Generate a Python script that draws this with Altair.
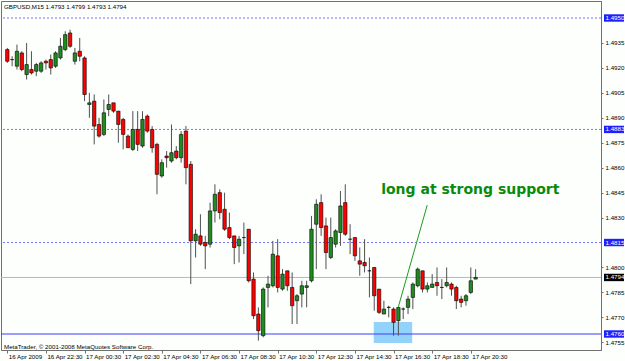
import altair as alt
import pandas as pd

# ---- OHLC data (GBPUSD M15, 16 Apr 2009 20:30 -> 17 Apr 2009 20:45)
opens = [1.4931, 1.4925, 1.4921, 1.4929, 1.4916, 1.4919, 1.4918, 1.4918, 1.4924, 1.4925,
         1.4921, 1.4926, 1.4931, 1.4941, 1.4924, 1.4930, 1.4926, 1.4898, 1.4900, 1.4886,
         1.4880, 1.4895, 1.4899, 1.4894, 1.4889, 1.4879, 1.4871, 1.4883, 1.4873, 1.4891,
         1.4883, 1.4874, 1.4855, 1.4867, 1.4864, 1.4870, 1.4866, 1.4882, 1.4862, 1.4816,
         1.4819, 1.4815, 1.4814, 1.4834, 1.4845, 1.4835, 1.4824, 1.4819, 1.4813, 1.4818,
         1.4823, 1.4793, 1.4772, 1.4759, 1.4788, 1.4789, 1.4807, 1.4787, 1.4798, 1.4788,
         1.4780, 1.4784, 1.4788, 1.4792, 1.4826, 1.4839, 1.4825, 1.4806, 1.4814, 1.4821,
         1.4839, 1.4817, 1.4818, 1.4804, 1.4803, 1.4798, 1.4800, 1.4787, 1.4772, 1.4776,
         1.4775, 1.4768, 1.4775, 1.4776, 1.4782, 1.4789, 1.4798, 1.4787, 1.4788, 1.4791,
         1.4788, 1.4789, 1.4790, 1.4788, 1.4781, 1.4780, 1.4785, 1.4793]
highs = [1.4932, 1.4927, 1.4934, 1.4930, 1.4935, 1.4930, 1.4923, 1.4924, 1.4925, 1.4928,
         1.4930, 1.4938, 1.4942, 1.4943, 1.4932, 1.4938, 1.4927, 1.4905, 1.4904, 1.4890,
         1.4901, 1.4904, 1.4899, 1.4894, 1.4890, 1.4880, 1.4894, 1.4894, 1.4894, 1.4892,
         1.4885, 1.4875, 1.4865, 1.4870, 1.4886, 1.4873, 1.4882, 1.4885, 1.4864, 1.4823,
         1.4832, 1.4819, 1.4839, 1.4850, 1.4847, 1.4845, 1.4833, 1.4819, 1.4819, 1.4827,
         1.4823, 1.4797, 1.4776, 1.4788, 1.4795, 1.4816, 1.4817, 1.4799, 1.4798, 1.4797,
         1.4784, 1.4792, 1.4792, 1.4831, 1.4841, 1.4844, 1.4830, 1.4830, 1.4823, 1.4846,
         1.4850, 1.4826, 1.4818, 1.4812, 1.4817, 1.4806, 1.4800, 1.4787, 1.4780, 1.4777,
         1.4776, 1.4776, 1.4776, 1.4783, 1.4791, 1.4800, 1.4798, 1.4791, 1.4796, 1.4800,
         1.4793, 1.4800, 1.4791, 1.4789, 1.4783, 1.4784, 1.4800, 1.4799]
lows = [1.4923, 1.4921, 1.4919, 1.4918, 1.4913, 1.4916, 1.4915, 1.4917, 1.4919, 1.4916,
        1.4920, 1.4925, 1.4930, 1.4932, 1.4922, 1.4924, 1.4900, 1.4890, 1.4874, 1.4878,
        1.4879, 1.4891, 1.4893, 1.4875, 1.4871, 1.4872, 1.4870, 1.4870, 1.4872, 1.4881,
        1.4869, 1.4844, 1.4854, 1.4860, 1.4863, 1.4865, 1.4863, 1.4850, 1.4790, 1.4806,
        1.4813, 1.4799, 1.4812, 1.4827, 1.4829, 1.4822, 1.4817, 1.4802, 1.4803, 1.4808,
        1.4791, 1.4769, 1.4756, 1.4758, 1.4776, 1.4788, 1.4785, 1.4786, 1.4786, 1.4766,
        1.4766, 1.4776, 1.4776, 1.4791, 1.4799, 1.4819, 1.4799, 1.4805, 1.4812, 1.4813,
        1.4819, 1.4808, 1.4804, 1.4795, 1.4797, 1.4782, 1.4774, 1.4772, 1.4772, 1.4770,
        1.4759, 1.4759, 1.4769, 1.4772, 1.4775, 1.4788, 1.4785, 1.4785, 1.4788, 1.4783,
        1.4781, 1.4788, 1.4783, 1.4775, 1.4776, 1.4777, 1.4784, 1.4793]
closes = [1.4924, 1.4925, 1.4930, 1.4919, 1.4922, 1.4917, 1.4922, 1.4923, 1.4923, 1.4920,
          1.4929, 1.4933, 1.4940, 1.4933, 1.4929, 1.4927, 1.4904, 1.4899, 1.4885, 1.4879,
          1.4893, 1.4898, 1.4894, 1.4886, 1.4880, 1.4872, 1.4883, 1.4874, 1.4889, 1.4882,
          1.4872, 1.4856, 1.4863, 1.4866, 1.4869, 1.4866, 1.4880, 1.4860, 1.4816, 1.4820,
          1.4814, 1.4813, 1.4834, 1.4844, 1.4833, 1.4823, 1.4818, 1.4812, 1.4817, 1.4818,
          1.4792, 1.4771, 1.4762, 1.4787, 1.4790, 1.4808, 1.4788, 1.4796, 1.4789, 1.4777,
          1.4783, 1.4789, 1.4789, 1.4823, 1.4838, 1.4824, 1.4809, 1.4818, 1.4822, 1.4837,
          1.4820, 1.4817, 1.4807, 1.4802, 1.4801, 1.4798, 1.4783, 1.4773, 1.4775, 1.4776,
          1.4767, 1.4776, 1.4775, 1.4781, 1.4790, 1.4799, 1.4787, 1.4789, 1.4790, 1.4789,
          1.4788, 1.4791, 1.4787, 1.4780, 1.4779, 1.4783, 1.4792, 1.4794]

time_labels = ["16 Apr 2009", "16 Apr 22:30", "17 Apr 00:30", "17 Apr 02:30", "17 Apr 04:30",
               "17 Apr 06:30", "17 Apr 08:30", "17 Apr 10:30", "17 Apr 12:30", "17 Apr 14:30",
               "17 Apr 16:30", "17 Apr 18:30", "17 Apr 20:30"]
label_bars = [0, 8, 16, 24, 32, 40, 48, 56, 64, 72, 80, 88, 96]

price_ticks = [1.4935, 1.4920, 1.4905, 1.4890, 1.4875, 1.4860, 1.4845, 1.4830,
               1.4800, 1.4785, 1.4770, 1.4755]
dotted_levels = [1.4950, 1.4883, 1.4815]
support_level = [1.4760]
current_price = [1.4794]

level_boxes = [1.4950, 1.4883, 1.4815, 1.4760]
price_box = [1.4794]

zone_bars = [75.9, 83.85]
zone_prices = [1.47546, 1.47672]
arrow_bars = [81.0, 86.97]
arrow_prices = [1.47764, 1.48375]
note_text = "long at strong support"
note_bar = [95.9]
note_price = [1.48441]

header_text = "GBPUSD,M15  1.4793 1.4799 1.4793 1.4794"
footer_text = "MetaTrader, \u00a9 2001-2008 MetaQuotes Software Corp."

# ---- tables
n = len(opens)
candles = pd.DataFrame({"i": list(range(n)), "o": opens, "h": highs, "l": lows, "c": closes})
candles["dir"] = ["up" if c > o else ("down" if c < o else "flat") for o, c in zip(opens, closes)]

small_font = "Liberation Sans"
xs = alt.Scale(domain=[-0.27, 121.93], nice=False, zero=False)
ys = alt.Scale(domain=[1.475038, 1.496022], nice=False, zero=False)

label_expr = "[" + ",".join("'%s'" % t for t in time_labels) + "][round(datum.value / 8)]"
xax = alt.Axis(values=label_bars, labelExpr=label_expr, title=None, grid=False,
               labelAlign="left", labelBaseline="top", labelFlush=False, labelOverlap=False,
               labelFont=small_font, labelFontSize=6.2, labelColor="#000000", labelPadding=0,
               labelOffset=1, tickSize=3, tickColor="#707070", domainColor="#707070")
yax = alt.Axis(values=price_ticks, format=".4f", orient="right", title=None, grid=False,
               labelFont=small_font, labelFontSize=6.2, labelColor="#000000", labelPadding=2,
               labelAlign="left", labelBaseline="middle", labelOverlap=False, labelFlush=False,
               tickSize=2, tickColor="#707070", domainColor="#707070")


def X(f, **kw):
    return alt.X(f, type="quantitative", scale=xs, axis=xax, **kw)


def Y(f, **kw):
    return alt.Y(f, type="quantitative", scale=ys, axis=yax, **kw)


zone = alt.Chart(pd.DataFrame({"x0": [zone_bars[0]], "x1": [zone_bars[1]],
                               "p0": [zone_prices[0]], "p1": [zone_prices[1]]})).mark_rect(
    color="#87cdf8", opacity=0.9).encode(x=X("x0"), x2="x1", y=Y("p0"), y2="p1")

dotted = alt.Chart(pd.DataFrame({"p": dotted_levels})).mark_rule(
    color="#7474ff", strokeDash=[2, 2], strokeWidth=1).encode(y=Y("p"))
support = alt.Chart(pd.DataFrame({"p": support_level})).mark_rule(
    color="#3c3cff", strokeWidth=1.2).encode(y=Y("p"))
current = alt.Chart(pd.DataFrame({"p": current_price})).mark_rule(
    color="#b4b4cc", strokeWidth=1).encode(y=Y("p"))

base = alt.Chart(candles)
wicks = base.mark_rule(color="#505050", strokeWidth=1).encode(x=X("i"), y=Y("l"), y2="h")
bodies = base.mark_bar(size=3.4, stroke="#000000", strokeWidth=0.6).encode(
    x=X("i"), y=Y("o"), y2="c",
    color=alt.Color("dir:N", scale=alt.Scale(domain=["up", "down", "flat"],
                                             range=["#1e8c1e", "#ff0000", "#000000"]),
                    legend=None))

arrow = alt.Chart(pd.DataFrame({"x": arrow_bars, "p": arrow_prices})).mark_line(
    color="#1e9a1e", strokeWidth=1).encode(x=X("x"), y=Y("p"))

note = alt.Chart(pd.DataFrame({"x": note_bar, "p": note_price, "t": [note_text]})).mark_text(
    font="DejaVu Sans", fontWeight="bold", fontSize=14, color="#0a8a0a",
    align="center", baseline="alphabetic").encode(x=X("x"), y=Y("p"), text="t:N")


def box_layers(prices, fill):
    df = pd.DataFrame({"p": prices})
    rect = alt.Chart(df).mark_rect(yOffset=-3.7, y2Offset=3.7, color=fill).encode(
        x=alt.value(603), x2=alt.value(623), y=Y("p"), y2="p")
    txt = alt.Chart(df).mark_text(
        font=small_font, fontSize=6.2, color="#ffffff", align="left", baseline="middle").encode(
        x=alt.value(604.5), y=Y("p"), text=alt.Text("p:Q", format=".4f"))
    return [rect, txt]


header = alt.Chart(pd.DataFrame({"t": [header_text]})).mark_text(
    font=small_font, fontSize=6.2, color="#000000", align="left", baseline="middle").encode(
    x=alt.value(3), y=alt.value(6), text="t:N")
footer = alt.Chart(pd.DataFrame({"t": [footer_text]})).mark_text(
    font=small_font, fontSize=6.2, color="#000000", align="left", baseline="middle").encode(
    x=alt.value(3), y=alt.value(345.5), text="t:N")

layers = [zone, dotted, current, support, wicks, bodies, arrow, note]
layers += box_layers(level_boxes, "#2020ff")
layers += box_layers(price_box, "#000000")
layers += [header, footer]

chart = alt.layer(*layers).properties(
    width=600, height=349,
    padding={"left": 1, "top": 1, "right": 24, "bottom": 11},
    autosize=alt.AutoSizeParams(type="none"),
    background="#fcfffc",
).configure_view(stroke="#707070", strokeWidth=1).configure_axis(grid=False)

chart.save("out.html", embed_options={"renderer": "svg", "actions": False})
